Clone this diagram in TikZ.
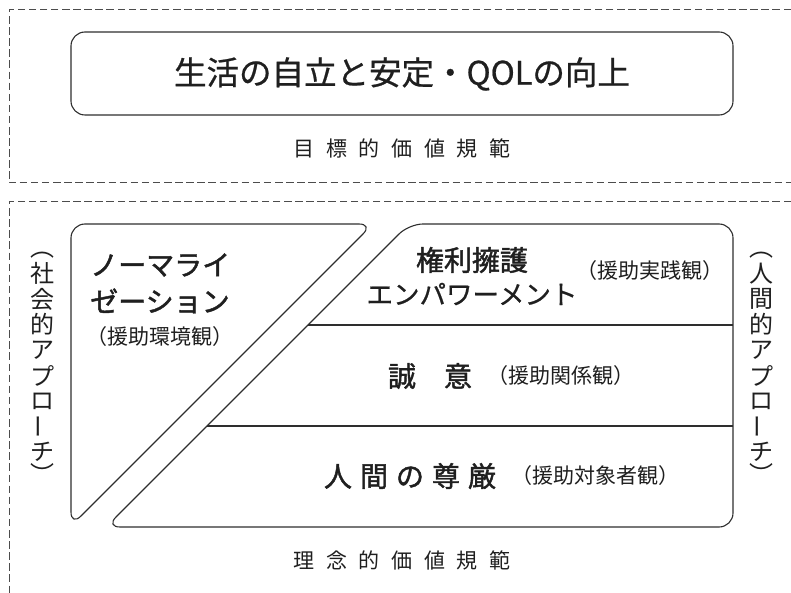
\documentclass[tikz,border=0pt]{standalone}
\usepackage{fontspec}
\setmainfont{Noto Sans CJK JP}
\newfontfamily\headfont[FakeBold=1.6]{Noto Sans CJK JP}
\newfontfamily\semifont[FakeBold=0.7]{Noto Sans CJK JP}
\begin{document}
\begin{tikzpicture}[x=1pt,y=-1pt,
  dashbox/.style={draw=black!70, line width=1pt, dash pattern=on 7.5pt off 3.6pt},
  panel/.style={draw=black!82, line width=1.1pt, rounded corners=14pt},
  divline/.style={draw=black!82, line width=1.1pt},
  txt/.style={text=black!88, inner sep=0pt},
  big/.style={txt, font=\headfont\fontsize{28}{28}\selectfont},
  mid/.style={txt, font=\semifont\fontsize{26.5}{26.5}\selectfont},
  small/.style={txt, font=\fontsize{21}{21}\selectfont},
  norm/.style={txt, font=\fontsize{21}{21}\selectfont},
  vch/.style={txt, font=\fontsize{24}{24}\selectfont},
]
\useasboundingbox (0,0) rectangle (791,593);
% dashed frames
\draw[dashbox] (791,10) -- (9,10) -- (9,183) -- (791,183);
\draw[dashbox] (791,202) -- (9,202) -- (9,593);
% top goal box
\draw[panel] (71,32) rectangle (733,115);
\node[txt, font=\semifont\fontsize{32.5}{32.5}\selectfont] (title) at (402,74) {生活の自立と安定・QOLの向上};
\node[norm] (goalnorm) at (402,148) {目\hspace{11.7pt}標\hspace{11.7pt}的\hspace{11.7pt}価\hspace{11.7pt}値\hspace{11.7pt}規\hspace{11.7pt}範};
% left shape
\draw[panel] (71,224) -- (373,224) -- (71,526) -- cycle;
% right shape
\draw[panel] (409,224) -- (733,224) -- (733,527) -- (106,527) -- cycle;
\draw[divline] (308,325) -- (733,325);
\draw[divline] (207,426) -- (733,426);
% left shape texts
\node[big, anchor=west] (norm1) at (90,265) {ノーマライ};
\node[big, anchor=west] (norm2) at (90,301) {ゼーション};
\node[small] (env) at (160,337) {（援助環境観）};
% right shape texts
\node[big] (rights) at (472,260) {権利擁護};
\node[mid] (empow) at (472,294) {エンパワーメント};
\node[small] (prac) at (650,271) {（援助実践観）};
\node[big] (sincere) at (430,376) {誠\hspace{28pt}意};
\node[small] (rel) at (561,376) {（援助関係観）};
\node[big] (dignity) at (410,476) {人\hspace{8pt}間\hspace{8pt}の\hspace{8pt}尊\hspace{8pt}厳};
\node[small] (obj) at (595,476) {（援助対象者観）};
\node[norm] (idealnorm) at (402,560) {理\hspace{11.7pt}念\hspace{11.7pt}的\hspace{11.7pt}価\hspace{11.7pt}値\hspace{11.7pt}規\hspace{11.7pt}範};
% vertical labels (left)
\node[vch] (lp1) at (42,255) {︵};
\node[vch] (l1) at (42,273.5) {社};
\node[vch] (l2) at (42,299) {会};
\node[vch] (l3) at (42,324.5) {的};
\node[vch] (l4) at (42,350) {ア};
\node[vch] (l5) at (42,375.5) {プ};
\node[vch] (l6) at (42,401) {ロ};
\node[vch] (l7) at (42,426.5) {\rotatebox[origin=c]{90}{ー}};
\node[vch] (l8) at (42,452) {チ};
\node[vch] (lp2) at (42,473) {︶};
% vertical labels (right)
\node[vch] (rp1) at (761,255) {︵};
\node[vch] (r1) at (761,273.5) {人};
\node[vch] (r2) at (761,299) {間};
\node[vch] (r3) at (761,324.5) {的};
\node[vch] (r4) at (761,350) {ア};
\node[vch] (r5) at (761,375.5) {プ};
\node[vch] (r6) at (761,401) {ロ};
\node[vch] (r7) at (761,426.5) {\rotatebox[origin=c]{90}{ー}};
\node[vch] (r8) at (761,452) {チ};
\node[vch] (rp2) at (761,473) {︶};
\end{tikzpicture}
\end{document}
